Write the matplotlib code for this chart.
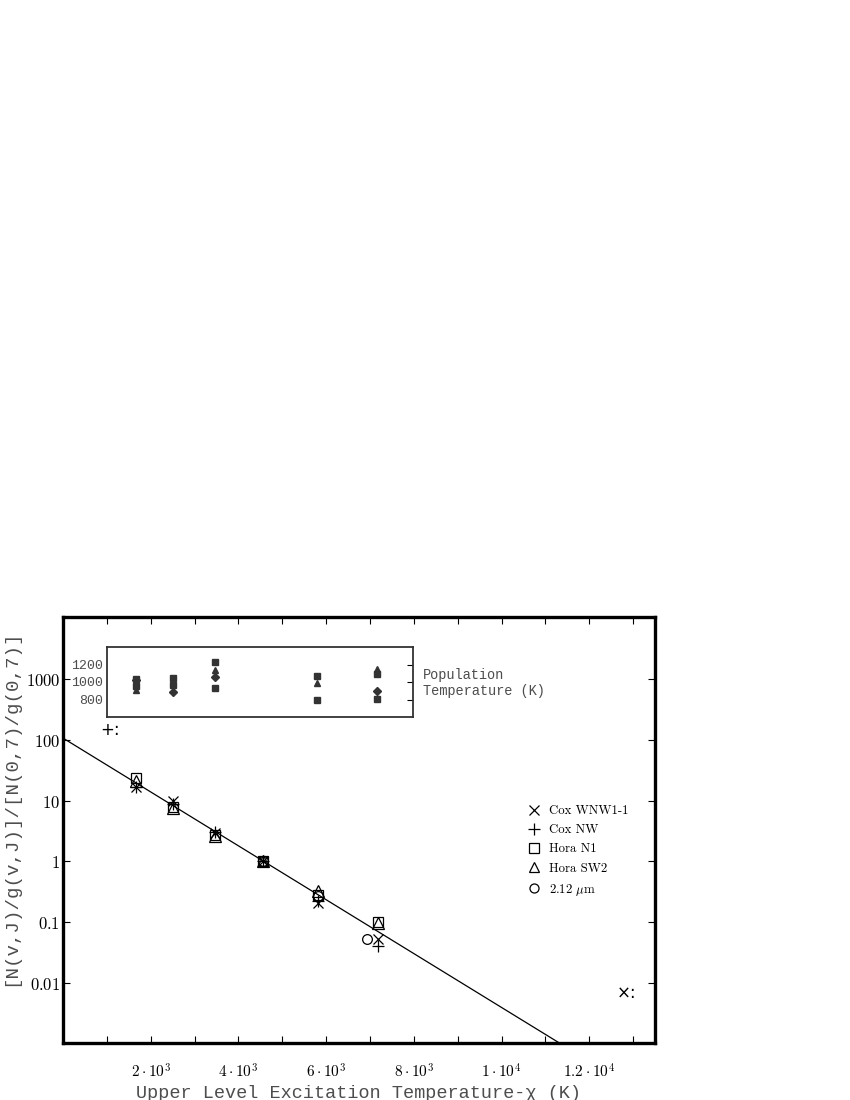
import numpy as np
import matplotlib
matplotlib.use("Agg")
import matplotlib.pyplot as plt
from matplotlib.lines import Line2D
from matplotlib.font_manager import FontProperties

plt.rcParams['mathtext.fontset'] = 'cm'

# excitation temperatures of the line groups (K)
chi = [1665, 2509, 3466, 4561, 5815, 7184]

# normalised column densities per data set
cox_wnw = [17, 10, 2.9, 1.0, 0.21, 0.053]
cox_nw = [17, 8.7, 3.0, 1.0, 0.22, 0.040]
hora_n1 = [24, 8.0, 2.7, 1.0, 0.28, 0.10]
hora_sw2 = [21, 7.5, 2.6, 1.0, 0.33, 0.098]
um212_x = [4561, 5815, 6930]
um212_y = [1.0, 0.27, 0.052]

# fitted line: y = fit_a * exp(-chi / fit_t)
fit_a = 107.0
fit_t = 980.0

# inset: population temperatures (K)
inset_x = [1665, 2509, 3466, 5815, 7184]
pop_sq_hi = [1031, 1046, 1225, 1072, 1088]
pop_tri = [909, 995, 1137, 985, 1149]
pop_dia = [1020, 889, 1061, np.nan, 900]
pop_sq_lo = [954, 965, 935, 800, 806]

xticks = [2000, 4000, 6000, 8000, 10000, 12000]
xticklabels = [r'$2\cdot10^3$', r'$4\cdot10^3$', r'$6\cdot10^3$',
               r'$8\cdot10^3$', r'$1\cdot10^4$', r'$1.2\cdot10^4$']
yticks = [1000, 100, 10, 1, 0.1, 0.01]
yticklabels = [r'$1000$', r'$100$', r'$10$', r'$1$', r'$0.1$', r'$0.01$']

grey = '#4d4d4d'
mono = 'Liberation Mono'

fig = plt.figure(figsize=(8.5, 11), dpi=100)
W, H = 850.0, 1100.0
ax_l, ax_r, ax_t, ax_b = 63, 655, 617, 1043
ax = fig.add_axes([ax_l / W, 1 - ax_b / H, (ax_r - ax_l) / W, (ax_b - ax_t) / H])
ax.set_yscale('log')
ax.set_xlim(0, 13500)
ax.set_ylim(1.03e-3, 1.05e4)

xx = np.linspace(0, 13500, 200)
ax.plot(xx, fit_a * np.exp(-xx / fit_t), color='black', lw=0.9)

mk = dict(ls='none', color='black', mfc='none', mew=0.9)
ax.plot(chi, cox_wnw, marker='x', ms=7, **mk)
ax.plot(chi, cox_nw, marker='+', ms=9, **mk)
ax.plot(chi, hora_n1, marker='s', ms=7, **mk)
ax.plot(chi, hora_sw2, marker='^', ms=8, **mk)
ax.plot(um212_x, um212_y, marker='o', ms=7, **mk)

ax.text(1070, 145, '+:', fontsize=12, va='center', ha='center')
ax.text(12855, 0.0069, '×:', fontsize=12, va='center', ha='center')

ax.set_xticks(xticks)
ax.set_xticklabels(xticklabels, fontsize=11)
ax.set_xticks(np.arange(1000, 13501, 2000), minor=True)
ax.set_yticks(yticks)
ax.set_yticklabels(yticklabels, fontsize=12)
ax.yaxis.set_minor_locator(matplotlib.ticker.NullLocator())
ax.tick_params(which='both', direction='in', top=True, right=True,
               length=5, width=0.8)
ax.tick_params(axis='x', pad=14)
ax.tick_params(axis='y', pad=2)
for s in ax.spines.values():
    s.set_linewidth(2.4)

ax.set_xlabel('Upper Level Excitation Temperature-χ (K)', family=mono,
              fontsize=13.3, color=grey, labelpad=3)
ax.set_ylabel('[N(v,J)/g(v,J)]/[N(0,7)/g(0,7)]', family=mono,
              fontsize=13.8, color=grey)
ax.yaxis.set_label_coords(-0.074, (ax_b - 808) / (ax_b - ax_t))

handles = [Line2D([], [], marker='x', ms=6.5, **mk),
           Line2D([], [], marker='+', ms=8.5, **mk),
           Line2D([], [], marker='s', ms=6.5, **mk),
           Line2D([], [], marker='^', ms=7.5, **mk),
           Line2D([], [], marker='o', ms=6.5, **mk)]
labels = ['Cox WNW1-1', 'Cox NW', 'Hora N1', 'Hora SW2', r'2.12 $\mu$m']
ax.legend(handles, labels, loc='center left', bbox_to_anchor=(0.765, 0.45),
          frameon=False, prop=FontProperties(family='cmr10', size=9.2),
          handlelength=1.0, handletextpad=0.7, labelspacing=0.55)

# inset with population temperatures
ins = fig.add_axes([107 / W, 1 - 717 / H, 306 / W, 70 / H])
ins.set_xlim(1000, 8000)
ins.set_ylim(600, 1400)
fk = dict(ls='none', color='#333333', ms=4.2)
ins.plot(inset_x, pop_sq_hi, marker='s', **fk)
ins.plot(inset_x, pop_tri, marker='^', **fk)
ins.plot(inset_x, pop_dia, marker='D', **fk)
ins.plot(inset_x, pop_sq_lo, marker='s', **fk)
ins.set_xticks([])
ins.set_yticks([800, 1000, 1200])
ins.set_yticklabels(['800', '1000', '1200'], family=mono, fontsize=9.5,
                    color=grey)
ins.tick_params(axis='y', direction='in', left=False, right=True,
                length=4, width=0.8, pad=3)
for s in ins.spines.values():
    s.set_linewidth(1.3)
    s.set_color('#333333')
fig.text(423 / W, 1 - 683 / H, 'Population\nTemperature (K)', family=mono,
         fontsize=9.8, color=grey, va='center', ha='left', linespacing=1.15)

fig.savefig('out.png', dpi=100)
